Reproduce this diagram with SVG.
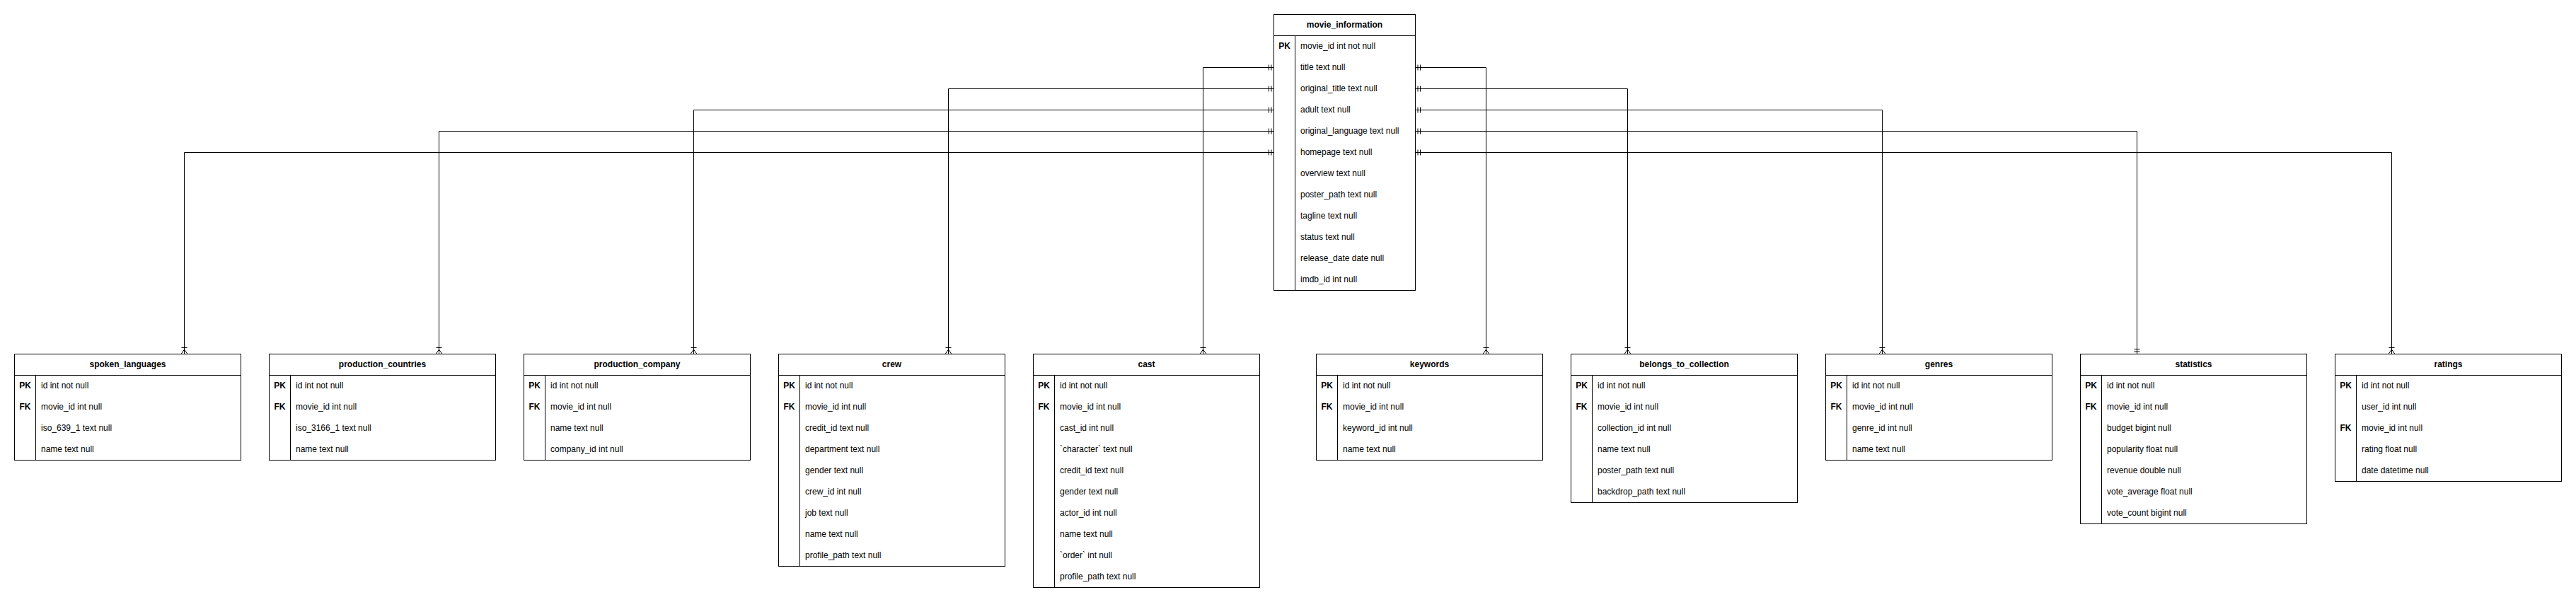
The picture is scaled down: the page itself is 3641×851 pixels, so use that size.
<svg xmlns="http://www.w3.org/2000/svg" width="3641" height="851" viewBox="0 0 3641 851">
<style>
.box{fill:#ffffff;stroke:#000000;stroke-width:1}
.ln{fill:none;stroke:#000000;stroke-width:1}
text{font-family:"Liberation Sans",Arial,Helvetica,sans-serif;font-size:12px;fill:#000000}
.hdr{font-weight:bold;text-anchor:middle}
.key{font-weight:bold;text-anchor:middle}
.con{fill:none;stroke:#000000;stroke-width:1}
</style>
<defs>
<marker id="mandOne" markerUnits="userSpaceOnUse" viewBox="-12 -6 14 12" refX="0" refY="0" markerWidth="14" markerHeight="12" orient="auto-start-reverse" overflow="visible">
<path d="M-3.5,-4 L-3.5,4 M-7,-4 L-7,4" fill="none" stroke="#000" stroke-width="1"/>
</marker>
<marker id="oneToMany" markerUnits="userSpaceOnUse" viewBox="-12 -6 14 12" refX="0" refY="0" markerWidth="14" markerHeight="12" orient="auto" overflow="visible">
<path d="M0,-4.5 L-6.5,0 L0,4.5 M-9,-4 L-9,4" fill="none" stroke="#000" stroke-width="1"/>
</marker>
</defs>
<rect x="0" y="0" width="3641" height="851" fill="#ffffff"/>

<g id="connectors">
<path class="con" d="M1800.5,95.5 L1700.5,95.5 L1700.5,500.5" marker-start="url(#mandOne)" marker-end="url(#oneToMany)"/>
<path class="con" d="M1800.5,125.5 L1340.5,125.5 L1340.5,500.5" marker-start="url(#mandOne)" marker-end="url(#oneToMany)"/>
<path class="con" d="M1800.5,155.5 L980.5,155.5 L980.5,500.5" marker-start="url(#mandOne)" marker-end="url(#oneToMany)"/>
<path class="con" d="M1800.5,185.5 L620.5,185.5 L620.5,500.5" marker-start="url(#mandOne)" marker-end="url(#oneToMany)"/>
<path class="con" d="M1800.5,215.5 L260.5,215.5 L260.5,500.5" marker-start="url(#mandOne)" marker-end="url(#oneToMany)"/>
<path class="con" d="M2000.5,95.5 L2100.5,95.5 L2100.5,500.5" marker-start="url(#mandOne)" marker-end="url(#oneToMany)"/>
<path class="con" d="M2000.5,125.5 L2300.5,125.5 L2300.5,500.5" marker-start="url(#mandOne)" marker-end="url(#oneToMany)"/>
<path class="con" d="M2000.5,155.5 L2660.5,155.5 L2660.5,500.5" marker-start="url(#mandOne)" marker-end="url(#oneToMany)"/>
<path class="con" d="M2000.5,185.5 L3020.5,185.5 L3020.5,500.5" marker-start="url(#mandOne)" marker-end="url(#mandOne)"/>
<path class="con" d="M2000.5,215.5 L3380.5,215.5 L3380.5,500.5" marker-start="url(#mandOne)" marker-end="url(#oneToMany)"/>
</g>

<g id="movie_information">
<rect class="box" x="1800.5" y="20.5" width="200" height="390"/>
<path class="ln" d="M1800.5,50.5 L2000.5,50.5 M1830.5,50.5 L1830.5,410.5"/>
<text class="hdr" x="1900.5" y="39">movie_information</text>
<text class="key" x="1815.5" y="69">PK</text>
<text x="1838" y="69">movie_id int not null</text>
<text x="1838" y="99">title text null</text>
<text x="1838" y="129">original_title text null</text>
<text x="1838" y="159">adult text null</text>
<text x="1838" y="189">original_language text null</text>
<text x="1838" y="219">homepage text null</text>
<text x="1838" y="249">overview text null</text>
<text x="1838" y="279">poster_path text null</text>
<text x="1838" y="309">tagline text null</text>
<text x="1838" y="339">status text null</text>
<text x="1838" y="369">release_date date null</text>
<text x="1838" y="399">imdb_id int null</text>
</g>

<g id="spoken_languages">
<rect class="box" x="20.5" y="500.5" width="320" height="150"/>
<path class="ln" d="M20.5,530.5 L340.5,530.5 M50.5,530.5 L50.5,650.5"/>
<text class="hdr" x="180.5" y="519">spoken_languages</text>
<text class="key" x="35.5" y="549">PK</text>
<text x="58" y="549">id int not null</text>
<text class="key" x="35.5" y="579">FK</text>
<text x="58" y="579">movie_id int null</text>
<text x="58" y="609">iso_639_1 text null</text>
<text x="58" y="639">name text null</text>
</g>

<g id="production_countries">
<rect class="box" x="380.5" y="500.5" width="320" height="150"/>
<path class="ln" d="M380.5,530.5 L700.5,530.5 M410.5,530.5 L410.5,650.5"/>
<text class="hdr" x="540.5" y="519">production_countries</text>
<text class="key" x="395.5" y="549">PK</text>
<text x="418" y="549">id int not null</text>
<text class="key" x="395.5" y="579">FK</text>
<text x="418" y="579">movie_id int null</text>
<text x="418" y="609">iso_3166_1 text null</text>
<text x="418" y="639">name text null</text>
</g>

<g id="production_company">
<rect class="box" x="740.5" y="500.5" width="320" height="150"/>
<path class="ln" d="M740.5,530.5 L1060.5,530.5 M770.5,530.5 L770.5,650.5"/>
<text class="hdr" x="900.5" y="519">production_company</text>
<text class="key" x="755.5" y="549">PK</text>
<text x="778" y="549">id int not null</text>
<text class="key" x="755.5" y="579">FK</text>
<text x="778" y="579">movie_id int null</text>
<text x="778" y="609">name text null</text>
<text x="778" y="639">company_id int null</text>
</g>

<g id="crew">
<rect class="box" x="1100.5" y="500.5" width="320" height="300"/>
<path class="ln" d="M1100.5,530.5 L1420.5,530.5 M1130.5,530.5 L1130.5,800.5"/>
<text class="hdr" x="1260.5" y="519">crew</text>
<text class="key" x="1115.5" y="549">PK</text>
<text x="1138" y="549">id int not null</text>
<text class="key" x="1115.5" y="579">FK</text>
<text x="1138" y="579">movie_id int null</text>
<text x="1138" y="609">credit_id text null</text>
<text x="1138" y="639">department text null</text>
<text x="1138" y="669">gender text null</text>
<text x="1138" y="699">crew_id int null</text>
<text x="1138" y="729">job text null</text>
<text x="1138" y="759">name text null</text>
<text x="1138" y="789">profile_path text null</text>
</g>

<g id="cast">
<rect class="box" x="1460.5" y="500.5" width="320" height="330"/>
<path class="ln" d="M1460.5,530.5 L1780.5,530.5 M1490.5,530.5 L1490.5,830.5"/>
<text class="hdr" x="1620.5" y="519">cast</text>
<text class="key" x="1475.5" y="549">PK</text>
<text x="1498" y="549">id int not null</text>
<text class="key" x="1475.5" y="579">FK</text>
<text x="1498" y="579">movie_id int null</text>
<text x="1498" y="609">cast_id int null</text>
<text x="1498" y="639">`character` text null</text>
<text x="1498" y="669">credit_id text null</text>
<text x="1498" y="699">gender text null</text>
<text x="1498" y="729">actor_id int null</text>
<text x="1498" y="759">name text null</text>
<text x="1498" y="789">`order` int null</text>
<text x="1498" y="819">profile_path text null</text>
</g>

<g id="keywords">
<rect class="box" x="1860.5" y="500.5" width="320" height="150"/>
<path class="ln" d="M1860.5,530.5 L2180.5,530.5 M1890.5,530.5 L1890.5,650.5"/>
<text class="hdr" x="2020.5" y="519">keywords</text>
<text class="key" x="1875.5" y="549">PK</text>
<text x="1898" y="549">id int not null</text>
<text class="key" x="1875.5" y="579">FK</text>
<text x="1898" y="579">movie_id int null</text>
<text x="1898" y="609">keyword_id int null</text>
<text x="1898" y="639">name text null</text>
</g>

<g id="belongs_to_collection">
<rect class="box" x="2220.5" y="500.5" width="320" height="210"/>
<path class="ln" d="M2220.5,530.5 L2540.5,530.5 M2250.5,530.5 L2250.5,710.5"/>
<text class="hdr" x="2380.5" y="519">belongs_to_collection</text>
<text class="key" x="2235.5" y="549">PK</text>
<text x="2258" y="549">id int not null</text>
<text class="key" x="2235.5" y="579">FK</text>
<text x="2258" y="579">movie_id int null</text>
<text x="2258" y="609">collection_id int null</text>
<text x="2258" y="639">name text null</text>
<text x="2258" y="669">poster_path text null</text>
<text x="2258" y="699">backdrop_path text null</text>
</g>

<g id="genres">
<rect class="box" x="2580.5" y="500.5" width="320" height="150"/>
<path class="ln" d="M2580.5,530.5 L2900.5,530.5 M2610.5,530.5 L2610.5,650.5"/>
<text class="hdr" x="2740.5" y="519">genres</text>
<text class="key" x="2595.5" y="549">PK</text>
<text x="2618" y="549">id int not null</text>
<text class="key" x="2595.5" y="579">FK</text>
<text x="2618" y="579">movie_id int null</text>
<text x="2618" y="609">genre_id int null</text>
<text x="2618" y="639">name text null</text>
</g>

<g id="statistics">
<rect class="box" x="2940.5" y="500.5" width="320" height="240"/>
<path class="ln" d="M2940.5,530.5 L3260.5,530.5 M2970.5,530.5 L2970.5,740.5"/>
<text class="hdr" x="3100.5" y="519">statistics</text>
<text class="key" x="2955.5" y="549">PK</text>
<text x="2978" y="549">id int not null</text>
<text class="key" x="2955.5" y="579">FK</text>
<text x="2978" y="579">movie_id int null</text>
<text x="2978" y="609">budget bigint null</text>
<text x="2978" y="639">popularity float null</text>
<text x="2978" y="669">revenue double null</text>
<text x="2978" y="699">vote_average float null</text>
<text x="2978" y="729">vote_count bigint null</text>
</g>

<g id="ratings">
<rect class="box" x="3300.5" y="500.5" width="320" height="180"/>
<path class="ln" d="M3300.5,530.5 L3620.5,530.5 M3330.5,530.5 L3330.5,680.5"/>
<text class="hdr" x="3460.5" y="519">ratings</text>
<text class="key" x="3315.5" y="549">PK</text>
<text x="3338" y="549">id int not null</text>
<text x="3338" y="579">user_id int null</text>
<text class="key" x="3315.5" y="609">FK</text>
<text x="3338" y="609">movie_id int null</text>
<text x="3338" y="639">rating float null</text>
<text x="3338" y="669">date datetime null</text>
</g>
</svg>
